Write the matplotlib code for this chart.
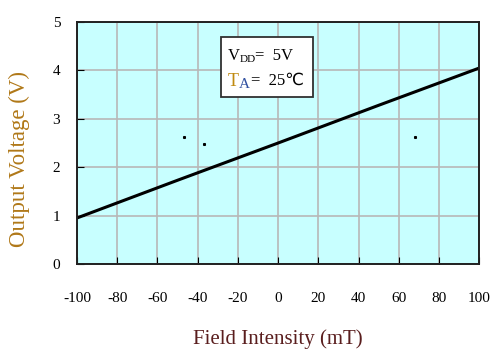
import matplotlib.pyplot as plt
from matplotlib.patches import Rectangle

# line: output voltage vs field intensity
field_mT = [-100, -50, 0, 50, 100]
voltage_V = [0.95, 1.73, 2.5, 3.28, 4.05]

# stray specks in the scan
speck_x = [-47, -37, 68]
speck_y = [2.62, 2.48, 2.62]

xticks = list(range(-100, 101, 20))
yticks = [0, 1, 2, 3, 4, 5]

plt.rcParams['font.family'] = ['Liberation Serif', 'DejaVu Sans']

fig = plt.figure(figsize=(4.93, 3.51), dpi=100)
ax = fig.add_axes([0.156, 0.248, 0.816, 0.689])
ax.set_facecolor('#c8ffff')

ax.plot(field_mT, voltage_V, color='black', lw=2.2)
ax.plot(speck_x, speck_y, ls='none', marker='s', ms=1.2, color='black')

ax.set_xlim(-100, 100)
ax.set_ylim(0, 5)
ax.set_xticks(xticks)
ax.set_yticks(yticks)
ax.set_xticklabels([str(t) for t in xticks], fontsize=11)
ax.set_yticklabels([str(t) for t in yticks], fontsize=11)
ax.tick_params(axis='x', direction='in', length=5, pad=20, color='black')
ax.tick_params(axis='y', direction='in', length=5, pad=12, color='black')
ax.grid(True, color='#b8b8b8', lw=1.2)
ax.set_axisbelow(True)
for s in ax.spines.values():
    s.set_color('#202020')
    s.set_linewidth(1.4)

ax.set_xlabel('Field Intensity (mT)', fontsize=15, color='#5a1e1e', labelpad=18)
ax.set_ylabel('Output Voltage (V)', fontsize=16.5, color='#b07818')
ax.yaxis.set_label_coords(-0.117, 0.434)

# condition box
ax.add_patch(Rectangle((-28.5, 3.46), 46, 1.23, fc='white', ec='#303030', lw=1.3, zorder=5))
ax.text(-25, 4.3, 'V', fontsize=12, va='center', zorder=6)
ax.text(-19.3, 4.22, 'DD', fontsize=8, va='center', zorder=6)
ax.text(-11.5, 4.3, '=  5V', fontsize=12, va='center', zorder=6)
ax.text(-25, 3.78, 'T', fontsize=13, va='center', color='#c08a10', zorder=6)
ax.text(-19.6, 3.72, 'A', fontsize=11, va='center', color='#3050a0', zorder=6)
ax.text(-13.5, 3.78, '=  25\u2103', fontsize=12, va='center', zorder=6)

fig.savefig('out.png', dpi=100)
